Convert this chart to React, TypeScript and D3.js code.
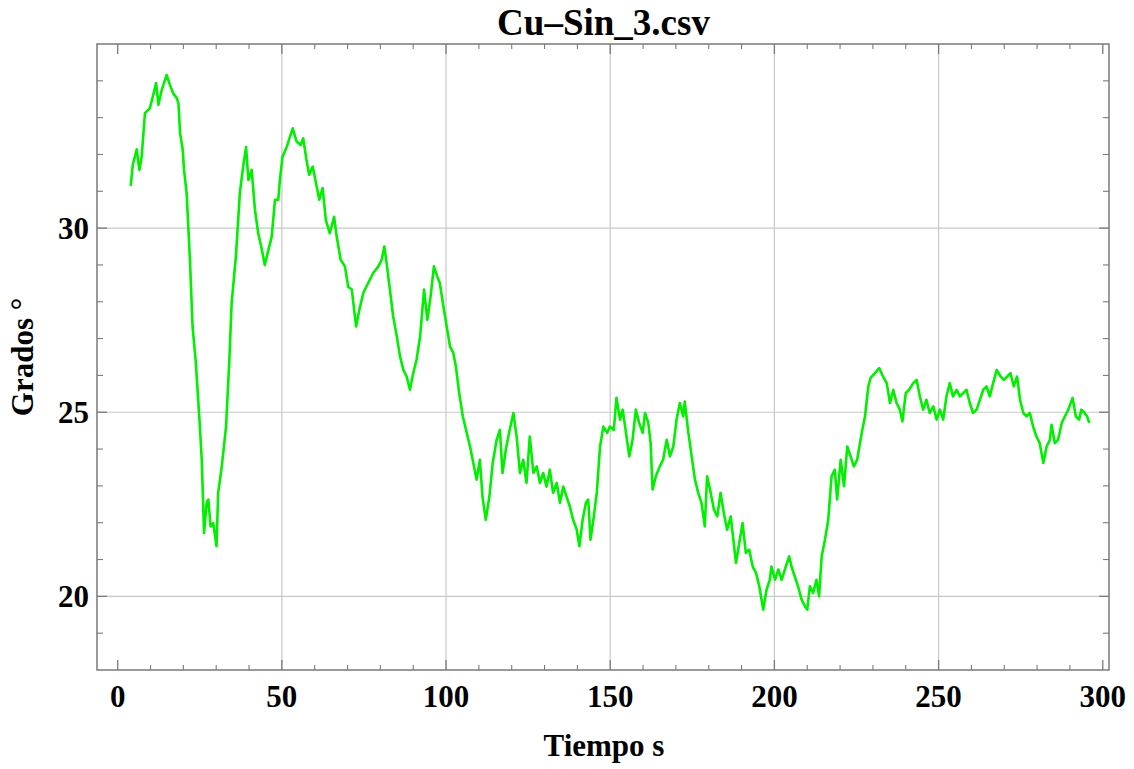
import React from "react";
import * as d3 from "d3";

const times = [
  3.96, 4.6, 5.8, 6.6, 7.3, 8.3, 9.8, 10.7, 11.7, 12.4, 13.4, 14.9, 15.9, 16.9, 18.0, 18.5, 19.0, 19.8, 20.2, 21.0,
  22.0, 22.8, 23.8, 24.9, 25.6, 26.3, 27.1, 27.6, 28.3, 29.1, 30.1, 30.6, 31.7, 33.0, 34.0, 34.7, 36.0, 37.2, 38.2, 39.1,
  39.8, 40.8, 41.8, 42.8, 43.8, 44.8, 45.9, 46.9, 47.9, 48.9, 49.4, 50.2, 51.5, 52.5, 53.3, 54.5, 55.7, 56.5, 57.5, 58.3,
  59.4, 60.6, 61.4, 62.4, 63.4, 64.6, 65.9, 66.7, 67.9, 69.2, 70.2, 71.3, 72.6, 73.6, 74.8, 76.3, 77.8, 79.4, 80.4, 81.2,
  81.9, 82.9, 83.9, 85.0, 86.0, 87.0, 88.0, 89.0, 90.0, 91.0, 92.1, 93.3, 94.3, 95.3, 96.3, 97.3, 98.1, 99.2, 100.2, 101.2,
  102.2, 103.0, 104.0, 105.1, 106.3, 107.3, 108.5, 109.3, 110.3, 111.1, 112.1, 113.2, 114.2, 115.4, 116.4, 117.2, 118.2, 119.2, 120.5, 121.5,
  122.5, 123.5, 124.5, 125.5, 126.6, 127.6, 128.6, 129.6, 130.6, 131.6, 132.6, 133.7, 134.7, 135.7, 136.7, 137.7, 138.7, 139.8, 140.6, 141.6,
  142.6, 143.3, 144.0, 145.0, 145.9, 146.9, 147.9, 149.1, 149.9, 151.1, 151.9, 153.0, 153.8, 154.8, 155.8, 156.8, 157.8, 158.8, 159.9, 160.6,
  161.6, 162.3, 162.9, 163.9, 165.1, 166.1, 167.2, 168.2, 169.2, 170.2, 171.2, 172.2, 172.7, 173.8, 174.8, 175.8, 176.8, 177.8, 178.8, 179.5,
  180.6, 181.6, 182.6, 183.6, 184.6, 185.6, 186.7, 187.5, 188.3, 189.3, 190.3, 191.3, 192.3, 193.4, 194.4, 195.4, 196.6, 197.6, 198.6, 199.1,
  200.2, 201.2, 202.2, 203.2, 204.5, 205.2, 206.2, 207.2, 208.3, 209.3, 210.0, 210.8, 211.8, 212.8, 213.6, 214.4, 215.4, 216.4, 217.4, 218.4,
  219.1, 220.2, 221.2, 222.2, 223.2, 224.2, 225.2, 226.6, 227.6, 228.6, 229.3, 230.6, 231.9, 233.1, 234.2, 235.2, 236.2, 237.2, 238.2, 239.0,
  240.0, 241.0, 242.3, 243.3, 244.3, 245.3, 246.3, 247.3, 248.4, 249.4, 250.4, 251.4, 252.4, 253.4, 254.4, 255.5, 256.5, 257.5, 258.5, 259.5,
  260.5, 261.6, 262.6, 263.6, 264.6, 265.6, 266.6, 267.7, 268.9, 269.9, 270.9, 271.9, 272.9, 273.9, 274.8, 275.8, 276.8, 277.8, 278.8, 279.8,
  280.8, 281.9, 282.9, 283.9, 284.4, 285.4, 286.4, 287.5, 288.5, 289.5, 290.8, 291.8, 292.8, 293.5, 294.5, 295.2, 295.9,
];

const degrees = [
  31.15, 31.72, 32.14, 31.58, 31.94, 33.12, 33.26, 33.57, 33.94, 33.35, 33.75, 34.16, 33.89, 33.66, 33.53, 33.39, 32.58, 32.13, 31.58, 30.95,
  29.14, 27.33, 26.34, 24.8, 23.71, 21.72, 22.54, 22.63, 21.9, 21.99, 21.36, 22.81, 23.53, 24.61, 26.42, 27.96, 29.23, 30.95, 31.67, 32.2,
  31.31, 31.58, 30.5, 29.86, 29.46, 29.0, 29.41, 29.77, 30.77, 30.77, 31.31, 31.94, 32.21, 32.49, 32.71, 32.35, 32.26, 32.44, 31.85, 31.45,
  31.67, 31.13, 30.77, 31.09, 30.22, 29.86, 30.31, 29.77, 29.14, 28.96, 28.41, 28.33, 27.33, 27.78, 28.24, 28.51, 28.78, 28.96, 29.14, 29.5,
  29.05, 28.33, 27.6, 27.06, 26.51, 26.15, 25.97, 25.61, 26.06, 26.42, 27.06, 28.33, 27.51, 28.14, 28.96, 28.69, 28.51, 27.87, 27.33, 26.79,
  26.61, 26.24, 25.52, 24.89, 24.44, 24.07, 23.53, 23.17, 23.71, 22.71, 22.08, 22.71, 23.62, 24.25, 24.52, 23.35, 23.98, 24.44, 24.98, 24.34,
  23.35, 23.71, 23.08, 24.34, 23.35, 23.53, 23.08, 23.35, 22.98, 23.44, 22.81, 23.08, 22.54, 22.98, 22.71, 22.44, 22.08, 21.81, 21.36, 22.08,
  22.54, 22.63, 21.54, 22.17, 22.81, 24.07, 24.61, 24.44, 24.61, 24.52, 25.39, 24.8, 25.07, 24.44, 23.8, 24.25, 25.07, 24.71, 24.44, 24.98,
  24.71, 24.16, 22.9, 23.26, 23.53, 23.71, 24.25, 23.8, 24.07, 24.8, 25.25, 24.89, 25.29, 24.44, 23.8, 23.17, 22.81, 22.54, 21.9, 23.26,
  22.81, 22.35, 22.17, 22.81, 22.26, 21.81, 22.17, 21.54, 20.91, 21.45, 21.99, 21.18, 21.27, 20.81, 20.64, 20.27, 19.64, 20.18, 20.45, 20.81,
  20.45, 20.73, 20.45, 20.73, 21.09, 20.81, 20.54, 20.27, 19.91, 19.73, 19.64, 20.27, 20.09, 20.45, 20.0, 21.09, 21.54, 22.08, 23.26, 23.44,
  22.63, 23.71, 22.99, 24.07, 23.8, 23.53, 23.71, 24.44, 24.89, 25.7, 25.93, 26.06, 26.2, 25.97, 25.79, 25.25, 25.61, 25.25, 25.07, 24.75,
  25.52, 25.61, 25.79, 25.88, 25.43, 25.07, 25.34, 24.98, 25.16, 24.8, 25.07, 24.8, 25.43, 25.79, 25.43, 25.61, 25.43, 25.52, 25.61, 25.25,
  24.98, 25.07, 25.34, 25.61, 25.7, 25.43, 25.79, 26.15, 25.97, 25.88, 25.97, 26.06, 25.7, 25.97, 25.34, 24.98, 24.89, 24.98, 24.61, 24.34,
  24.16, 23.62, 24.07, 24.25, 24.66, 24.16, 24.25, 24.71, 24.89, 25.07, 25.39, 24.89, 24.8, 25.07, 24.98, 24.89, 24.71,
];

const xMajorTicks = [0, 50, 100, 150, 200, 250, 300];
const yMajorTicks = [20, 25, 30];
const xMinorTicks = d3.range(0, 301, 10).filter((v) => v % 50 !== 0);
const yMinorTicks = d3.range(19, 35, 1).filter((v) => v % 5 !== 0);

const title = "Cu\u2013Sin_3.csv";
const xLabel = "Tiempo s";
const yLabel = "Grados \u00b0";

const W = 1134;
const H = 769;
const L = 97;
const R = 1109;
const T = 44;
const B = 670;

const FONT = "'Liberation Serif', 'Times New Roman', serif";

export default function App() {
  const x = d3.scaleLinear().domain([-6.3, 301.9]).range([L, R]);
  const y = d3.scaleLinear().domain([18, 35]).range([B, T]);
  const pts = times.map((t, i) => [t, degrees[i]] as [number, number]);
  const line = d3
    .line<[number, number]>()
    .x((d) => x(d[0]))
    .y((d) => y(d[1]));

  const axisColor = "#7a7a7a";
  const gridColor = "#c8c8c8";

  return (
    <div style={{ position: "absolute", left: 0, top: 0 }}>
      <svg width={W} height={H} style={{ display: "block", background: "#fff" }}>
        {/* grid */}
        {xMajorTicks
          .filter((v) => v > 0 && v < 300)
          .map((v) => (
            <line key={"gx" + v} x1={x(v)} x2={x(v)} y1={T} y2={B} stroke={gridColor} strokeWidth={1.2} />
          ))}
        {yMajorTicks.map((v) => (
          <line key={"gy" + v} x1={L} x2={R} y1={y(v)} y2={y(v)} stroke={gridColor} strokeWidth={1.2} />
        ))}

        {/* data */}
        <path d={line(pts) || ""} fill="none" stroke="#00f000" strokeWidth={2.6} strokeLinejoin="round" />

        {/* frame */}
        <rect x={L} y={T} width={R - L} height={B - T} fill="none" stroke={axisColor} strokeWidth={1.5} />

        {/* x ticks bottom & top */}
        {xMajorTicks.map((v) => (
          <g key={"xt" + v}>
            <line x1={x(v)} x2={x(v)} y1={B} y2={B - 10} stroke={axisColor} strokeWidth={1.3} />
            <line x1={x(v)} x2={x(v)} y1={T} y2={T + 10} stroke={axisColor} strokeWidth={1.3} />
          </g>
        ))}
        {xMinorTicks.map((v) => (
          <g key={"xm" + v}>
            <line x1={x(v)} x2={x(v)} y1={B} y2={B - 5} stroke={axisColor} strokeWidth={1.1} />
            <line x1={x(v)} x2={x(v)} y1={T} y2={T + 5} stroke={axisColor} strokeWidth={1.1} />
          </g>
        ))}

        {/* y ticks left & right */}
        {yMajorTicks.map((v) => (
          <g key={"yt" + v}>
            <line x1={L} x2={L + 10} y1={y(v)} y2={y(v)} stroke={axisColor} strokeWidth={1.3} />
            <line x1={R} x2={R - 10} y1={y(v)} y2={y(v)} stroke={axisColor} strokeWidth={1.3} />
          </g>
        ))}
        {yMinorTicks.map((v) => (
          <g key={"ym" + v}>
            <line x1={L} x2={L + 6} y1={y(v)} y2={y(v)} stroke={axisColor} strokeWidth={1.1} />
            <line x1={R} x2={R - 6} y1={y(v)} y2={y(v)} stroke={axisColor} strokeWidth={1.1} />
          </g>
        ))}

        {/* tick labels */}
        {xMajorTicks.map((v) => (
          <text
            key={"xl" + v}
            x={x(v)}
            y={706.5}
            textAnchor="middle"
            fontFamily={FONT}
            fontWeight="bold"
            fontSize={31}
            fill="#000"
          >
            {v}
          </text>
        ))}
        {yMajorTicks.map((v) => (
          <text
            key={"yl" + v}
            x={89}
            y={y(v) + 10.5}
            textAnchor="end"
            fontFamily={FONT}
            fontWeight="bold"
            fontSize={31}
            fill="#000"
          >
            {v}
          </text>
        ))}

        {/* titles */}
        <text x={603.5} y={35} textAnchor="middle" fontFamily={FONT} fontWeight="bold" fontSize={37} fill="#000">
          {title}
        </text>
        <text x={604} y={756} textAnchor="middle" fontFamily={FONT} fontWeight="bold" fontSize={31} fill="#000">
          {xLabel}
        </text>
        <text
          transform={`translate(33, ${(T + B) / 2}) rotate(-90)`}
          textAnchor="middle"
          fontFamily={FONT}
          fontWeight="bold"
          fontSize={31}
          fill="#000"
        >
          {yLabel}
        </text>
      </svg>
    </div>
  );
}
